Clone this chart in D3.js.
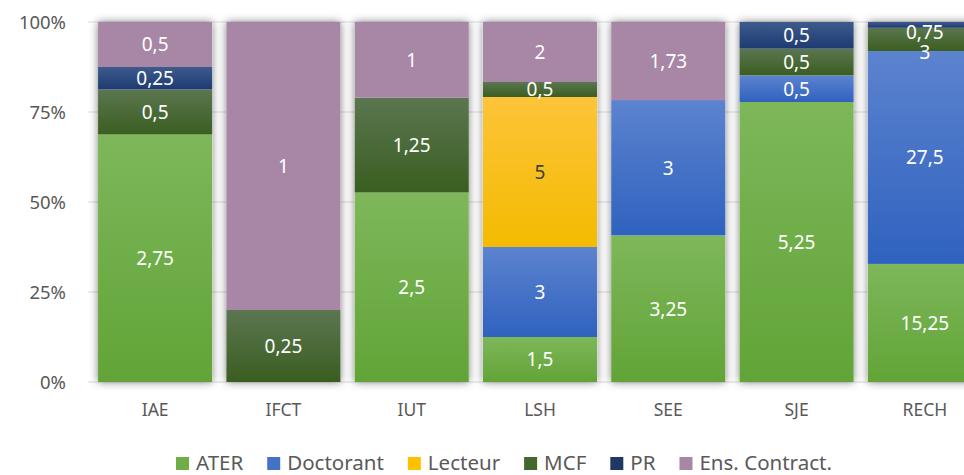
<!DOCTYPE html>
<html>
<head>
<meta charset="utf-8">
<script src="https://cdn.jsdelivr.net/npm/d3@7"></script>
<style>
  body { margin: 0; background: #fff; }
  text { font-family: "Noto Sans", sans-serif; }
</style>
</head>
<body>
<svg id="chart" width="964" height="475"></svg>
<script>
var categories = ["IAE", "IFCT", "IUT", "LSH", "SEE", "SJE", "RECH"];
var seriesNames = ["ATER", "Doctorant", "Lecteur", "MCF", "PR", "Ens. Contract."];
var ater      = [2.75, 0,    2.5,  1.5, 3.25, 5.25, 15.25];
var doctorant = [0,    0,    0,    3,   3,    0.5,  27.5];
var lecteur   = [0,    0,    0,    5,   0,    0,    0];
var mcf       = [0.5,  0.25, 1.25, 0.5, 0,    0.5,  3];
var pr        = [0.25, 0,    0,    0,   0,    0.5,  0.75];
var ens       = [0.5,  1,    1,    2,   1.73, 0,    0];
var yTicks = [0, 0.25, 0.5, 0.75, 1];

var allSeries = [ater, doctorant, lecteur, mcf, pr, ens];
var colors = [
  ["#7db75a", "#62a437"],
  ["#5c83cf", "#2f62bf"],
  ["#fdc439", "#f3bb00"],
  ["#5b7650", "#3a5e20"],
  ["#3d5b8c", "#1e3a72"],
  ["#a886a6", "#a886a6"]
];
var legendColors = ["#70ad47", "#4472c4", "#ffc000", "#43682b", "#203864", "#a886a6"];

var rows = categories.map(function(c, i){
  var r = {cat: c};
  seriesNames.forEach(function(s, j){ r[s] = allSeries[j][i]; });
  return r;
});

var svg = d3.select("#chart");
var x = d3.scaleBand().domain(categories).range([91, 989]).paddingInner(0.11).paddingOuter(0.055);
var y = d3.scaleLinear().domain([0, 1]).range([382, 22]);

var stack = d3.stack().keys(seriesNames).offset(d3.stackOffsetExpand);
var stacked = stack(rows);

var defs = svg.append("defs");
colors.forEach(function(c, i){
  var g = defs.append("linearGradient").attr("id", "grad" + i)
    .attr("x1", 0).attr("y1", 0).attr("x2", 0).attr("y2", 1);
  g.append("stop").attr("offset", 0).attr("stop-color", c[0]);
  g.append("stop").attr("offset", 1).attr("stop-color", c[1]);
});
var f = defs.append("filter").attr("id", "shadow")
  .attr("x", "-20%").attr("y", "-5%").attr("width", "140%").attr("height", "110%");
f.append("feDropShadow").attr("dx", 0).attr("dy", 0).attr("stdDeviation", 4)
  .attr("flood-color", "#000").attr("flood-opacity", 0.5);

// gridlines
svg.append("g").selectAll("line").data(yTicks).join("line")
  .attr("x1", 88).attr("x2", 964)
  .attr("y1", d => y(d)).attr("y2", d => y(d))
  .attr("stroke", "#d9d9d9").attr("stroke-width", 1);

// bar shadows
svg.append("g").attr("filter", "url(#shadow)").selectAll("rect").data(categories).join("rect")
  .attr("x", d => x(d)).attr("width", x.bandwidth())
  .attr("y", y(1)).attr("height", y(0) - y(1))
  .attr("fill", "#fff");

// bars
var layers = svg.append("g").selectAll("g").data(stacked).join("g")
  .attr("fill", (d, i) => "url(#grad" + i + ")");
layers.selectAll("rect").data(d => d.filter(p => p[1] - p[0] > 0)).join("rect")
  .attr("x", d => x(d.data.cat)).attr("width", x.bandwidth())
  .attr("y", d => y(d[1])).attr("height", d => y(d[0]) - y(d[1]));

// data labels, stacked from top to bottom so they don't overlap too much
var fmt = v => String(v).replace(".", ",");
var labels = [];
categories.forEach(function(c, ci){
  var lastY = -Infinity;
  for (var si = seriesNames.length - 1; si >= 0; si--) {
    var p = stacked[si][ci];
    if (p[1] - p[0] <= 0) continue;
    var cy = (y(p[0]) + y(p[1])) / 2;
    cy = Math.max(cy, y(1) + 10, lastY + 20);
    lastY = cy;
    labels.push({cat: c, y: cy, v: allSeries[si][ci], s: si});
  }
});
svg.append("g").selectAll("text").data(labels).join("text")
  .attr("x", d => x(d.cat) + x.bandwidth() / 2)
  .attr("y", d => d.y)
  .attr("dy", "0.36em")
  .attr("text-anchor", "middle")
  .attr("font-size", 19)
  .attr("fill", d => d.s == 2 ? "#404040" : "#fff")
  .text(d => fmt(d.v));

// y axis labels
svg.append("g").selectAll("text").data(yTicks).join("text")
  .attr("x", 66).attr("y", d => y(d)).attr("dy", "0.36em")
  .attr("text-anchor", "end").attr("font-size", 18.5).attr("fill", "#595959")
  .text(d3.format(".0%"));

// x axis labels
svg.append("g").selectAll("text").data(categories).join("text")
  .attr("x", d => x(d) + x.bandwidth() / 2).attr("y", 410).attr("dy", "0.36em")
  .attr("text-anchor", "middle").attr("font-size", 17.5).attr("fill", "#595959")
  .text(d => d);

// legend
var legend = svg.append("g");
var lx = 0;
seriesNames.forEach(function(s, i){
  var it = legend.append("g").attr("transform", "translate(" + lx + ",0)");
  it.append("rect").attr("x", 0).attr("y", -6).attr("width", 13).attr("height", 13)
    .attr("fill", legendColors[i]);
  var t = it.append("text").attr("x", 20).attr("y", 0).attr("dy", "0.36em")
    .attr("font-size", 20.5).attr("fill", "#595959").text(s);
  lx += 20 + t.node().getComputedTextLength() + 24;
});
legend.attr("transform", "translate(176,463)");
</script>
</body>
</html>
